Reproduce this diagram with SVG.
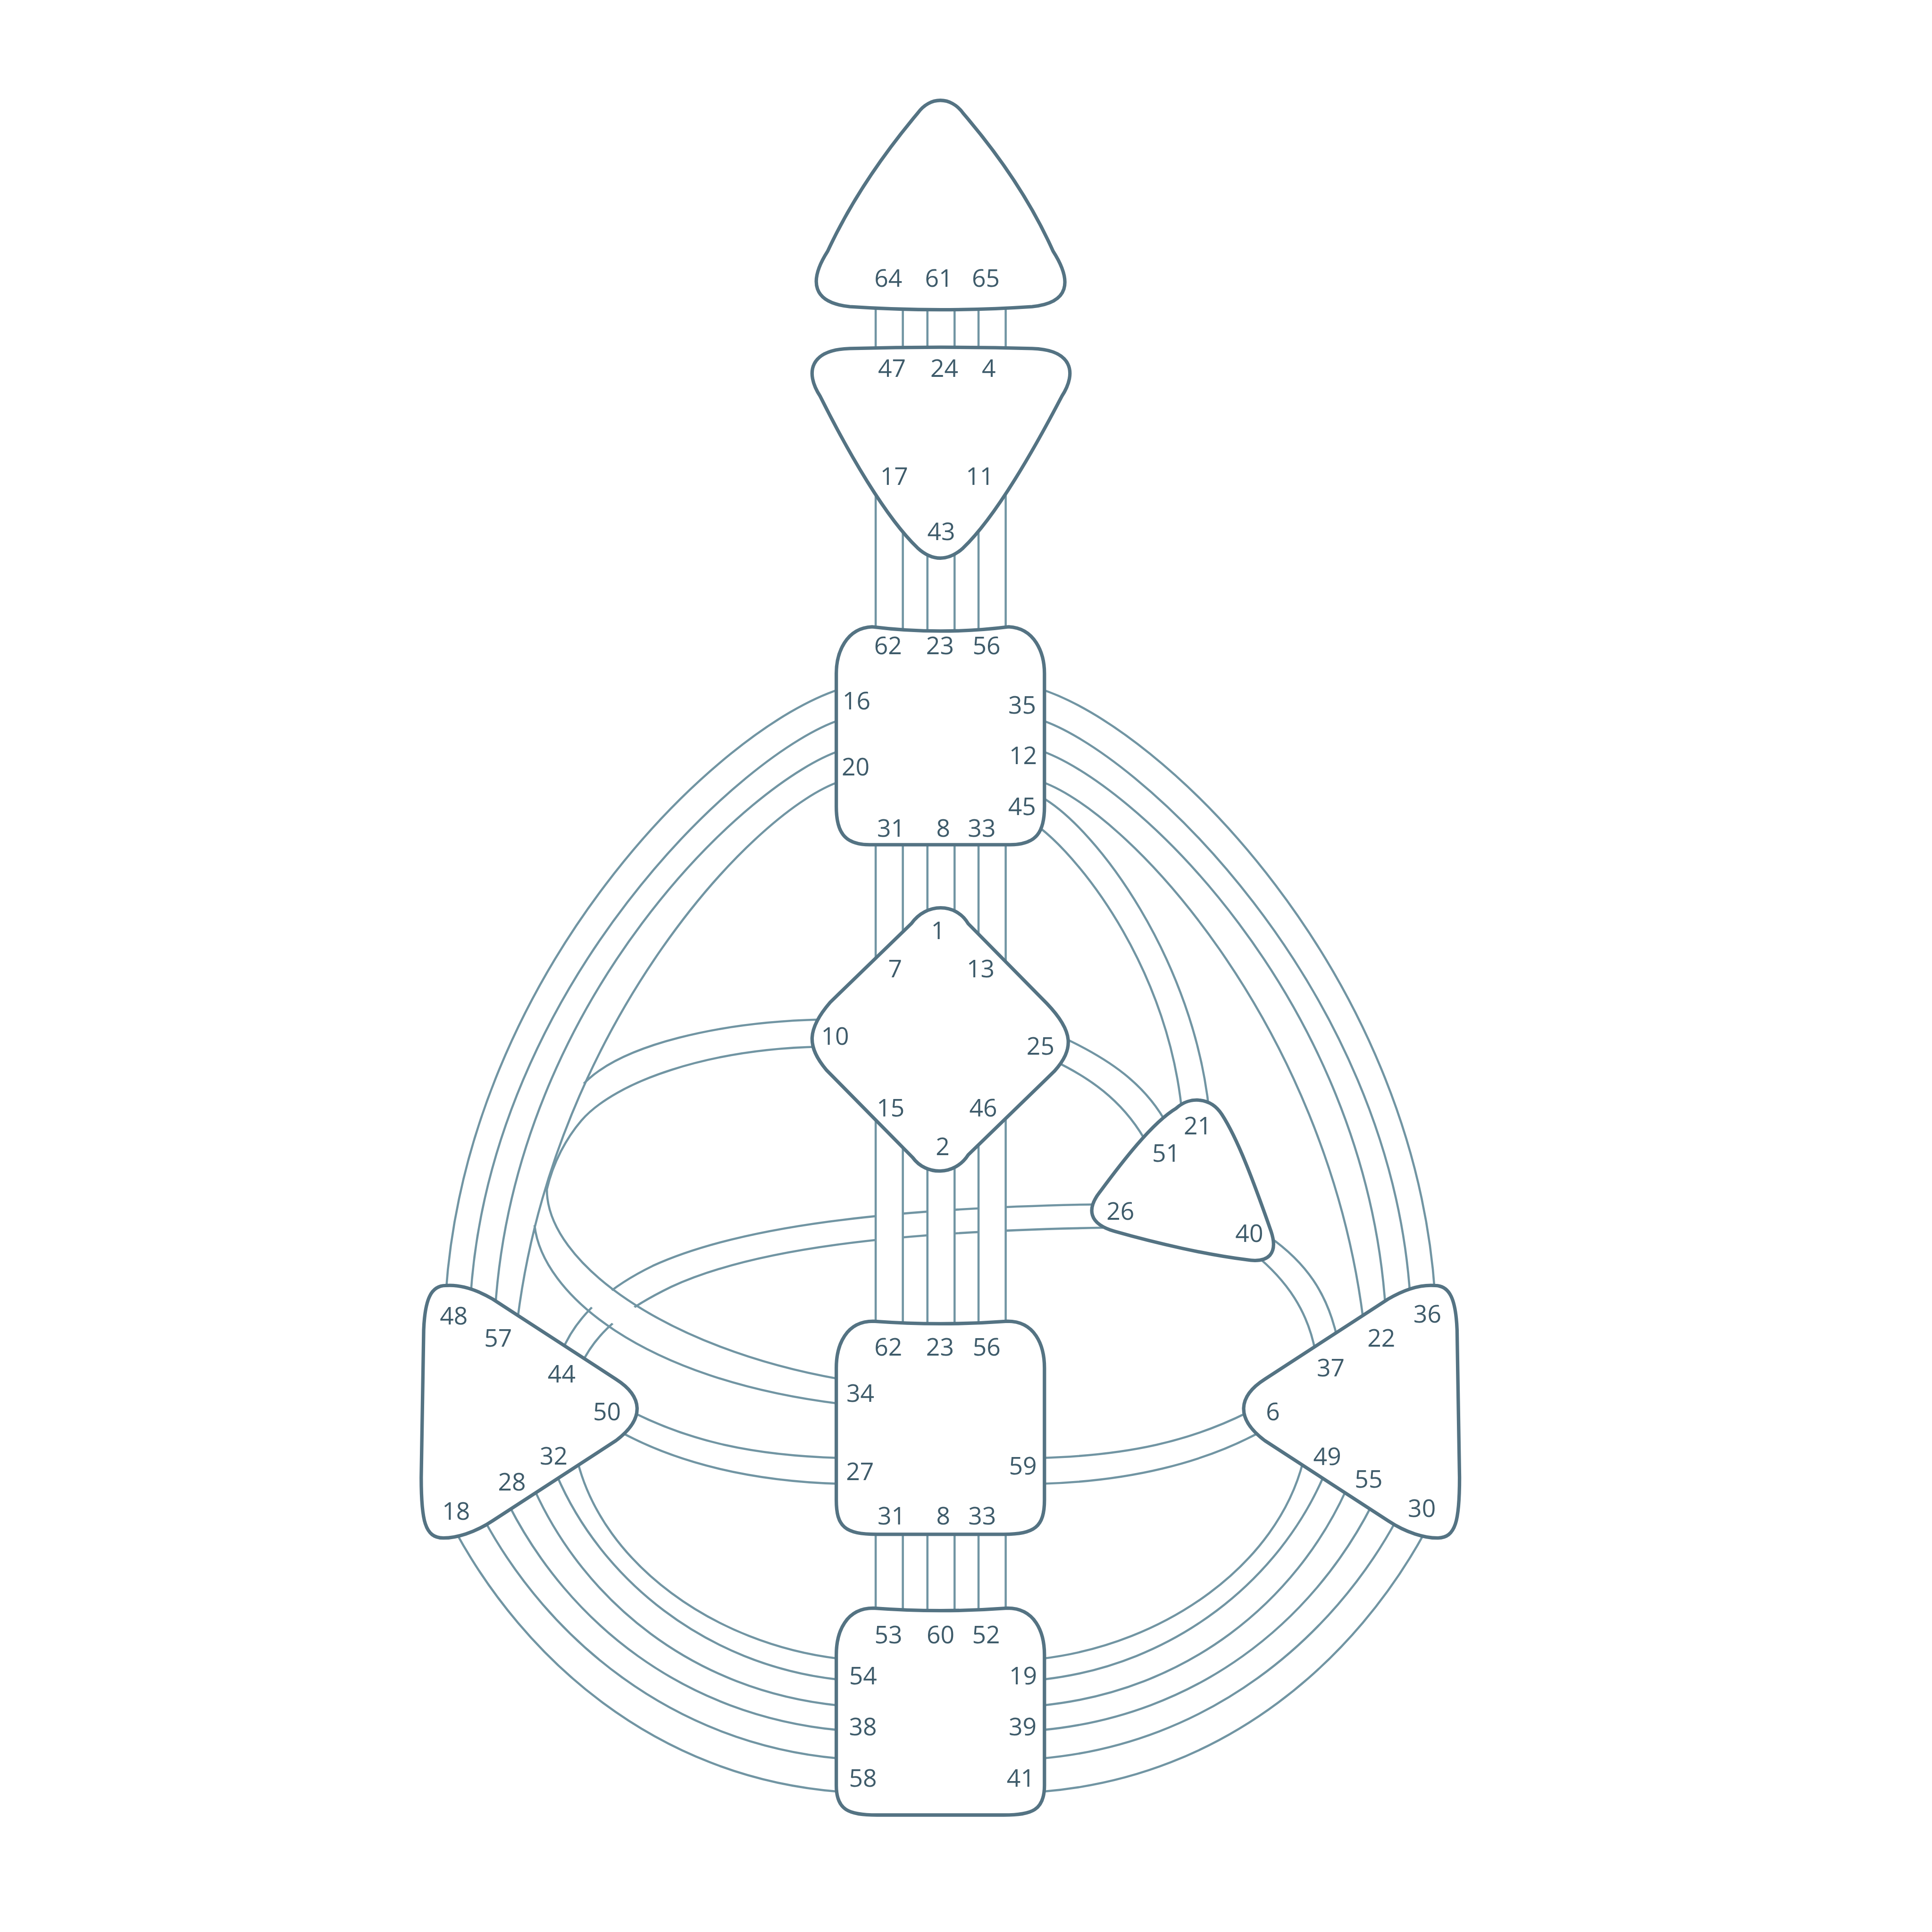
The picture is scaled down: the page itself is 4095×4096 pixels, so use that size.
<svg xmlns="http://www.w3.org/2000/svg" width="4095" height="4096" viewBox="0 0 4095 4096">
<style>
.ch{fill:none;stroke:#7195a3;stroke-width:1.75}
.to{fill:none;stroke:#7195a3;stroke-width:23.8}
.ti{fill:none;stroke:#fff;stroke-width:20.3}
.mk{fill:none;stroke:#fff;stroke-width:21}
.nd{fill:#fff;stroke:#547383;stroke-width:2.8;stroke-linejoin:round}
.lb{font-family:"Open Sans","Noto Sans","Liberation Sans",sans-serif;font-size:19.8px;fill:#3e5b6a;text-anchor:middle}
</style>
<rect width="4095" height="4096" fill="#fff"/>
<g transform="scale(2.6106)">
<g id="connectors">
  <!-- 26-44 -->
  <path class="ch" d="M 892 978 C 720 981, 600 996, 530 1028 C 495 1045, 468 1068, 456 1098"/>
  <path class="ch" d="M 897 997 C 720 1000, 610 1015, 545 1045 C 510 1062, 485 1080, 472 1108"/>
  <path class="mk" d="M 458 1024 C 475 1045, 500 1068, 550 1095"/>
  <!-- throat left arcs -->
  <path class="ch" d="M 684 559 C 582 590, 380 790, 362 1050"/>
  <path class="ch" d="M 684 584 C 605 608, 398 800, 382 1054"/>
  <path class="ch" d="M 684 609 C 610 632, 418 810, 402 1064"/>
  <path class="ch" d="M 684 634 C 615 655, 450 830, 420 1073"/>
  <!-- 10 lines -->
  <path class="ch" d="M 666 828 C 585 830, 505 848, 474 880"/>
  <path class="ch" d="M 666 850 C 575 852, 500 878, 472 910 C 460 924, 449 944, 444 966 C 444 1025, 540 1095, 682 1120"/>
  <path class="ch" d="M 434 995 C 440 1050, 520 1120, 682 1140"/>
  <!-- throat right arcs -->
  <path class="ch" d="M 843 559 C 945 590, 1147 790, 1165 1050"/>
  <path class="ch" d="M 843 584 C 922 608, 1129 800, 1145 1054"/>
  <path class="ch" d="M 843 609 C 917 632, 1109 810, 1125 1064"/>
  <path class="ch" d="M 843 634 C 912 655, 1077 830, 1107 1073"/>
  <!-- 45-21 -->
  <path class="ch" d="M 845 647 C 890 672, 970 780, 982 905"/>
  <path class="ch" d="M 844 672 C 880 700, 950 790, 960 907"/>
  <!-- 25-51 -->
  <path class="ch" d="M 864 843 C 900 860, 930 880, 948 914"/>
  <path class="ch" d="M 857 862 C 890 878, 915 898, 932 930"/>
  <!-- 40-37 -->
  <path class="ch" d="M 1030 1004 C 1060 1025, 1078 1050, 1086 1088"/>
  <path class="ch" d="M 1018 1018 C 1045 1040, 1062 1065, 1068 1098"/>
  <!-- 50-27 and 6-59 -->
  <path class="ch" d="M 514 1147 C 560 1170, 610 1182, 682 1184"/>
  <path class="ch" d="M 504 1163 C 550 1188, 610 1203, 682 1205"/>
  <path class="ch" d="M 1013 1147 C 967 1170, 917 1182, 845 1184"/>
  <path class="ch" d="M 1023 1163 C 977 1188, 917 1203, 845 1205"/>
  <!-- spleen to root -->
  <path class="ch" d="M 469 1187 C 490 1270, 580 1335, 681 1347"/>
  <path class="ch" d="M 452 1198 C 488 1282, 572 1352, 681 1364"/>
  <path class="ch" d="M 434 1210 C 475 1300, 562 1373, 681 1385"/>
  <path class="ch" d="M 413 1222 C 462 1318, 555 1393, 681 1405"/>
  <path class="ch" d="M 393 1234 C 445 1330, 545 1416, 681 1428"/>
  <path class="ch" d="M 370 1244 C 425 1345, 530 1443, 681 1455"/>
  <!-- solar plexus to root -->
  <path class="ch" d="M 1058 1187 C 1037 1270, 947 1335, 846 1347"/>
  <path class="ch" d="M 1075 1198 C 1039 1282, 955 1352, 846 1364"/>
  <path class="ch" d="M 1093 1210 C 1052 1300, 965 1373, 846 1385"/>
  <path class="ch" d="M 1114 1222 C 1065 1318, 972 1393, 846 1405"/>
  <path class="ch" d="M 1134 1234 C 1082 1330, 982 1416, 846 1428"/>
  <path class="ch" d="M 1157 1244 C 1102 1345, 997 1443, 846 1455"/>
  <!-- vertical channels -->
  <path class="to" d="M 722 244 V 292 M 764 244 V 292 M 805.5 244 V 292 M 722 370 V 516 M 764 420 V 516 M 805.5 370 V 516 M 722 680 V 800 M 764 680 V 760 M 805.5 680 V 800 M 722 890 V 1080 M 764 920 V 1080 M 805.5 890 V 1080 M 722 1240 V 1312 M 764 1240 V 1312 M 805.5 1240 V 1312"/>
  <path class="ti" d="M 722 244 V 292 M 764 244 V 292 M 805.5 244 V 292 M 722 370 V 516 M 764 420 V 516 M 805.5 370 V 516 M 722 680 V 800 M 764 680 V 760 M 805.5 680 V 800 M 722 890 V 1080 M 764 920 V 1080 M 805.5 890 V 1080 M 722 1240 V 1312 M 764 1240 V 1312 M 805.5 1240 V 1312"/>
</g>
<g id="head">
  <path class="nd" d="M 745 92 C 755 78, 772 78, 782 92 Q 830 148 855 204 C 871 229, 868 246, 838 249 Q 764 254 690 249 C 660 246, 656 229, 672 204 Q 698 148 745 92 Z"/>
  <text class="lb" x="721.2" y="232.8">64</text>
  <text class="lb" x="762.3" y="232.8">61</text>
  <text class="lb" x="800.4" y="232.8">65</text>
</g>
<g id="ajna">
  <path class="nd" d="M 690 283 Q 764 281 838 283 C 870 284, 875 302, 862 322 C 838 368, 808 420, 782 445 C 770 456, 757 456, 745 445 C 719 420, 689 368, 666 322 C 653 302, 658 284, 690 283 Z"/>
  <text class="lb" x="724.2" y="305.9">47</text>
  <text class="lb" x="766.7" y="305.9">24</text>
  <text class="lb" x="802.8" y="305.9">4</text>
  <text class="lb" x="726" y="393.6">17</text>
  <text class="lb" x="795.5" y="393.6">11</text>
  <text class="lb" x="764.2" y="438.7">43</text>
</g>
<g id="throat">
  <path class="nd" d="M 708 509 Q 764 516 819 509 C 840 510, 848 530, 848 547 L 848 655 C 848 675, 842 686, 820 686 L 706 686 C 685 686, 679 675, 679 655 L 679 547 C 679 530, 687 510, 708 509 Z"/>
  <text class="lb" x="721" y="531.3">62</text>
  <text class="lb" x="763.2" y="531.3">23</text>
  <text class="lb" x="801" y="531.3">56</text>
  <text class="lb" x="695.4" y="576">16</text>
  <text class="lb" x="694.7" y="629.9">20</text>
  <text class="lb" x="829.9" y="579.6">35</text>
  <text class="lb" x="830.7" y="620.7">12</text>
  <text class="lb" x="829.8" y="662">45</text>
  <text class="lb" x="723.4" y="679.7">31</text>
  <text class="lb" x="765.8" y="679.7">8</text>
  <text class="lb" x="797.1" y="679.7">33</text>
</g>
<g id="g-center">
  <path class="nd" d="M 740 750 C 752 733, 776 733, 786 750 L 850 815 C 872 838, 872 852, 856 870 L 786 938 C 775 955, 752 955, 741 940 L 671 869 C 655 850, 655 836, 674 814 Z"/>
  <text class="lb" x="761.6" y="762.5">1</text>
  <text class="lb" x="726.8" y="793.8">7</text>
  <text class="lb" x="796.2" y="793.8">13</text>
  <text class="lb" x="678" y="848.5">10</text>
  <text class="lb" x="844.8" y="856.4">25</text>
  <text class="lb" x="723.1" y="906.8">15</text>
  <text class="lb" x="798.3" y="906.8">46</text>
  <text class="lb" x="765.4" y="938.1">2</text>
</g>
<g id="ego">
  <path class="nd" d="M 893 968 C 910 945, 935 912, 955 900 C 966 890, 983 891, 992 905 C 1005 925, 1018 960, 1032 1000 C 1038 1018, 1030 1026, 1012 1023 C 980 1019, 940 1010, 905 1000 C 884 994, 882 982, 893 968 Z"/>
  <text class="lb" x="972.4" y="921.2">21</text>
  <text class="lb" x="946.7" y="943.5">51</text>
  <text class="lb" x="909.7" y="990.4">26</text>
  <text class="lb" x="1014.3" y="1008.7">40</text>
</g>
<g id="spleen">
  <path class="nd" d="M 362 1044 C 375 1043, 388 1048, 400 1055 L 500 1120 C 522 1134, 524 1152, 500 1170 L 400 1235 C 385 1245, 370 1249, 360 1249 C 345 1249, 342 1235, 342 1200 L 344 1080 C 345 1055, 350 1044, 362 1044 Z"/>
  <text class="lb" x="368.4" y="1075.6">48</text>
  <text class="lb" x="404.4" y="1093.6">57</text>
  <text class="lb" x="456" y="1122.7">44</text>
  <text class="lb" x="492.8" y="1153.2">50</text>
  <text class="lb" x="449.5" y="1189.5">32</text>
  <text class="lb" x="415.6" y="1210.4">28</text>
  <text class="lb" x="370.3" y="1234.3">18</text>
</g>
<g id="solar-plexus">
  <path class="nd" d="M 1165 1044 C 1152 1043, 1139 1048, 1127 1055 L 1027 1120 C 1005 1134, 1003 1152, 1027 1170 L 1127 1235 C 1142 1245, 1157 1249, 1167 1249 C 1182 1249, 1185 1235, 1185 1200 L 1183 1080 C 1182 1055, 1177 1044, 1165 1044 Z"/>
  <text class="lb" x="1158.9" y="1074">36</text>
  <text class="lb" x="1121.5" y="1093.6">22</text>
  <text class="lb" x="1080.4" y="1117.6">37</text>
  <text class="lb" x="1033.5" y="1153.4">6</text>
  <text class="lb" x="1077.6" y="1189.9">49</text>
  <text class="lb" x="1111.2" y="1208.3">55</text>
  <text class="lb" x="1154.4" y="1231.9">30</text>
</g>
<g id="sacral">
  <path class="nd" d="M 709 1073 Q 764 1077 818 1073 C 840 1073, 848 1092, 848 1111 L 848 1218 C 848 1240, 840 1246, 815 1246 L 712 1246 C 686 1246, 679 1240, 679 1218 L 679 1111 C 679 1092, 687 1073, 709 1073 Z"/>
  <text class="lb" x="721.2" y="1101">62</text>
  <text class="lb" x="763.2" y="1101">23</text>
  <text class="lb" x="801.1" y="1101">56</text>
  <text class="lb" x="698.5" y="1138.5">34</text>
  <text class="lb" x="698.2" y="1201.9">27</text>
  <text class="lb" x="830.5" y="1197.6">59</text>
  <text class="lb" x="723.8" y="1237.9">31</text>
  <text class="lb" x="765.8" y="1237.9">8</text>
  <text class="lb" x="797.4" y="1237.9">33</text>
</g>
<g id="root">
  <path class="nd" d="M 709 1306 Q 764 1310 818 1306 C 840 1306, 848 1325, 848 1344 L 848 1450 C 848 1470, 838 1474, 815 1474 L 712 1474 C 689 1474, 679 1470, 679 1450 L 679 1344 C 679 1325, 687 1306, 709 1306 Z"/>
  <text class="lb" x="721.3" y="1334.4">53</text>
  <text class="lb" x="763.6" y="1334.4">60</text>
  <text class="lb" x="800.6" y="1334.4">52</text>
  <text class="lb" x="700.7" y="1368">54</text>
  <text class="lb" x="700.6" y="1409.2">38</text>
  <text class="lb" x="700.6" y="1450.9">58</text>
  <text class="lb" x="830.7" y="1368">19</text>
  <text class="lb" x="830.3" y="1409.2">39</text>
  <text class="lb" x="828.7" y="1450.9">41</text>
</g>
</g>
</svg>
